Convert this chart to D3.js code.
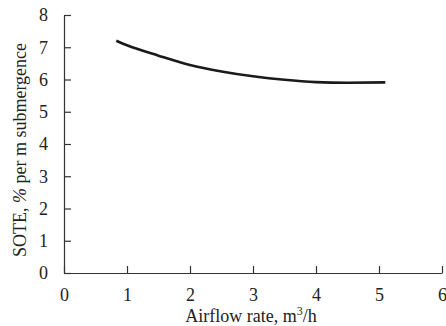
<!DOCTYPE html>
<html><head><meta charset="utf-8">
<script src="https://cdn.jsdelivr.net/npm/d3@7"></script>
<style>body{margin:0;background:#fff}svg{display:block}text{font-family:"Liberation Serif","Times New Roman",serif;fill:#222}</style>
</head><body><svg id="c" width="446" height="326"></svg>
<script>
const airflow = [0.83, 1.0, 1.5, 2.0, 2.5, 3.0, 3.5, 4.0, 4.5, 5.1];
const sote    = [7.2, 7.06, 6.74, 6.45, 6.25, 6.1, 5.99, 5.92, 5.9, 5.91];
const xTicks = [0, 1, 2, 3, 4, 5, 6];
const yTicks = [0, 1, 2, 3, 4, 5, 6, 7, 8];

const svg = d3.select("#c");
const x = d3.scaleLinear().domain([0, 6]).range([64, 442]);
const y = d3.scaleLinear().domain([0, 8]).range([273, 15]);

const xa = svg.append("g").attr("transform", "translate(0,273)")
  .call(d3.axisBottom(x).tickValues(xTicks).tickFormat(d3.format("d")).tickSizeInner(-7).tickSizeOuter(0).tickPadding(15));
const ya = svg.append("g").attr("transform", "translate(64,0)")
  .call(d3.axisLeft(y).tickValues(yTicks).tickFormat(d3.format("d")).tickSizeInner(-7).tickSizeOuter(0).tickPadding(16));
[xa, ya].forEach(g => {
  g.attr("font-family", null);
  g.selectAll("path,line").attr("stroke", "#333").attr("stroke-width", 1.2);
  g.selectAll("text").attr("font-size", 18).attr("fill", "#222");
});

const line = d3.line().x((d, i) => x(airflow[i])).y(d => y(d)).curve(d3.curveMonotoneX);
svg.append("path").datum(sote).attr("d", line).attr("fill", "none")
  .attr("stroke", "#1a1a1a").attr("stroke-width", 2.6);

const xt = svg.append("text").attr("x", 251).attr("y", 322).attr("text-anchor", "middle").attr("font-size", 18);
xt.append("tspan").text("Airflow rate, m");
xt.append("tspan").attr("dy", -7).attr("font-size", 12).text("3");
xt.append("tspan").attr("dy", 7).text("/h");

const yt = svg.append("text").attr("transform", "translate(26,150) rotate(-90)")
  .attr("text-anchor", "middle").attr("font-size", 18);
yt.append("tspan").text("SOTE, ");
yt.append("tspan").attr("font-style", "italic").text("%");
yt.append("tspan").text(" per m submergence");
</script></body></html>
